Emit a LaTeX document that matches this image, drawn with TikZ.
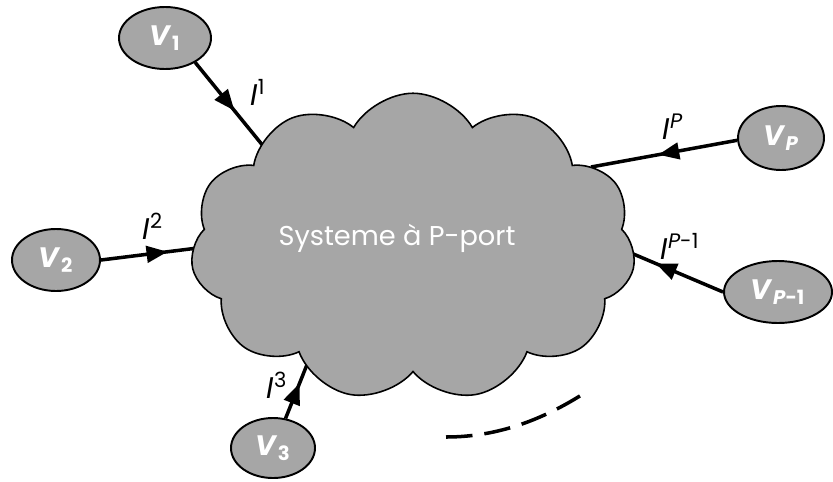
\documentclass[tikz,border=0pt]{standalone}
\usepackage{fontspec}
\setmainfont{Poppins}
\usetikzlibrary{shapes.geometric,shapes.symbols,arrows.meta,decorations.markings,backgrounds}
\definecolor{cloudgray}{RGB}{166,166,166}
\newcommand{\vname}[1]{\textbf{\textit{V}\textsubscript{#1}}}
\newcommand{\iname}[1]{\textit{I}\textsuperscript{#1}}

\begin{document}
\begin{tikzpicture}[x=0.2mm,y=-0.2mm,
  volt/.style={ellipse,draw,line width=1.1pt,fill=cloudgray,text=white,inner sep=0pt,
    font=\fontsize{16}{18}\selectfont},
  wire/.style={line width=2pt},
  port/.style={postaction=decorate,decoration={markings,
    mark=at position #1 with {\arrow{Triangle[length=4.2mm,width=3.3mm]}}}},
  cur/.style={font=\fontsize{17}{19}\selectfont}]
  \useasboundingbox (0,0) rectangle (833,481);
  \node[cloud,cloud puffs=11,cloud puff arc=120,cloud ignores aspect,draw,line width=0.9pt,
    fill=cloudgray,minimum width=89mm,minimum height=61.5mm] (sys) at (413,247) {};
  \node[text=white,font=\fontsize{15.5}{18}\selectfont] (title) at (397,238) {Systeme à P-port};
  \node[volt,minimum width=18.4mm,minimum height=12.4mm] (v1) at (165,38) {\vname{1}};
  \node[volt,minimum width=17.6mm,minimum height=12.4mm] (v2) at (56,260) {\vname{2}};
  \node[volt,minimum width=16.8mm,minimum height=12mm] (v3) at (273,448) {\vname{3}};
  \node[volt,minimum width=17.2mm,minimum height=12.8mm] (vp) at (781,138) {\vname{\textit{P}}};
  \node[volt,minimum width=21.6mm,minimum height=12.4mm] (vq) at (778,292) {\vname{\textit{P}-1}};
  \coordinate (c1) at (277,163);
  \coordinate (c2) at (222,245);
  \coordinate (c3) at (314,347);
  \coordinate (cp) at (591,167);
  \coordinate (cq) at (605,242);
  \begin{scope}[on background layer]
    \draw[wire,port=0.48] (v1.-39) -- (c1);
    \draw[wire,port=0.55] (v2.east) -- (c2);
    \draw[wire,port=0.49] (v3.67) -- (c3);
    \draw[wire,port=0.54] (vp.183) -- (cp);
    \draw[wire,port=0.57] (vq.west) -- (cq);
  \end{scope}
  \node[cur] (i1) at (258,92) {\iname{1}};
  \node[cur] (i2) at (153,226) {\iname{2}};
  \node[cur] (i3) at (277,385) {\iname{3}};
  \node[cur] (ip) at (673,127) {\iname{\textit{P}}};
  \node[cur] (iq) at (680,246) {\iname{\textit{P}-1}};
  \draw[wire,dash pattern=on 5.3mm off 2.4mm] (446,437) .. controls (500,437) and (545,418) .. (583,394);
\end{tikzpicture}
\end{document}
